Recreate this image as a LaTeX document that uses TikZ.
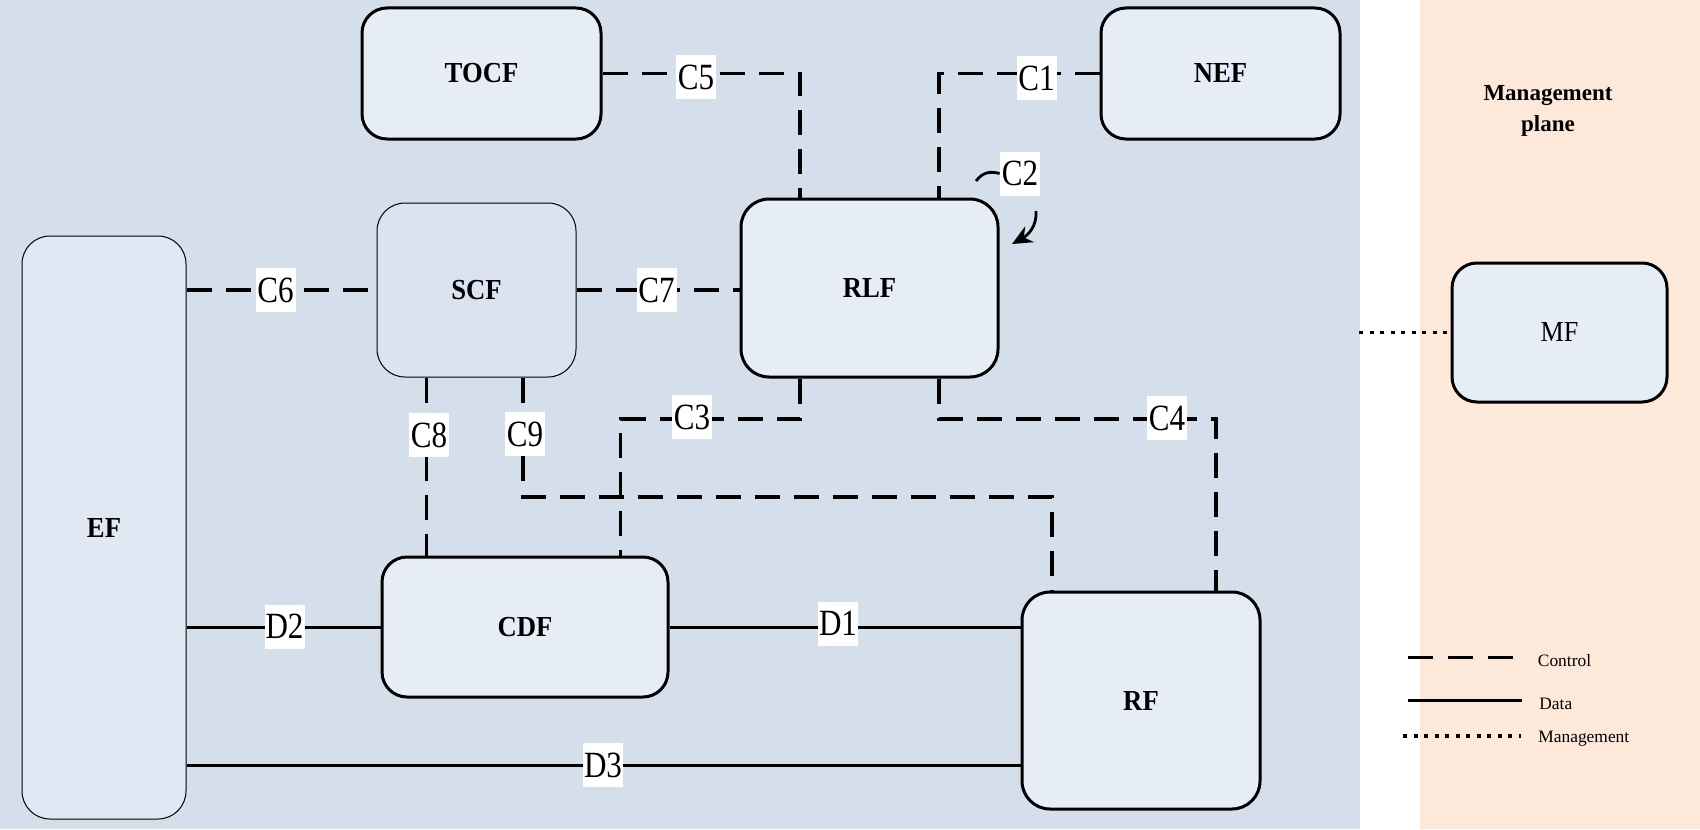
\documentclass[tikz,border=0pt]{standalone}
\usepackage{fontspec}
\usepackage{graphicx}
\setmainfont{Liberation Serif}
\usetikzlibrary{arrows.meta}
\definecolor{bgblue}{HTML}{D5DFEB}
\definecolor{boxfill}{HTML}{E6EDF7}
\definecolor{scffill}{HTML}{DAE3EF}
\definecolor{effill}{HTML}{E0E8F3}
\definecolor{peach}{HTML}{FDE9D9}
\newcommand\sqz[2]{\scalebox{#1}[1]{#2}}
\tikzset{
  fbox/.style={draw, line width=1.5pt, rounded corners=12.5pt, fill=boxfill, inner sep=0pt,
    font=\fontsize{14.5}{17}\selectfont\bfseries},
  thinbox/.style={draw, line width=0.5pt, rounded corners=14pt, inner sep=0pt,
    font=\fontsize{14.5}{17}\selectfont\bfseries},
  lab/.style={fill=white, inner sep=0pt, minimum width=20pt, minimum height=22pt,
    font=\fontsize{18.5}{20}\selectfont},
  ctrl/.style={line width=1.65pt, dash pattern=on 12.5pt off 7pt},
  datal/.style={line width=1.5pt},
  mgmt/.style={line width=1.9pt, dash pattern=on 2pt off 3.25pt},
  legtext/.style={anchor=west, inner sep=0pt, font=\fontsize{8.7}{10}\selectfont},
}
\begin{document}
\begin{tikzpicture}[x=0.5pt, y=-0.5pt]
\useasboundingbox (0,0) rectangle (1700,829);
\fill[white] (0,0) rectangle (1700,829);
\fill[bgblue] (0,0) rectangle (1360,829);
\fill[peach] (1420,0) rectangle (1700,829);

% boxes
\node[fbox, minimum width=119.5pt, minimum height=65.5pt] (tocf) at (481.5,73.5) {\sqz{0.92}{TOCF}};
\node[fbox, minimum width=119.5pt, minimum height=65.5pt] (nef) at (1220.5,73.5) {\sqz{0.92}{NEF}};
\node[thinbox, fill=scffill, minimum width=99.5pt, minimum height=87pt] (scf) at (476.5,290) {\sqz{0.92}{SCF}};
\node[thinbox, fill=effill, minimum width=82pt, minimum height=291.5pt] (ef) at (104,527.5) {\sqz{0.92}{EF}};
\node[fbox, rounded corners=14pt, minimum width=128.5pt, minimum height=89pt] (rlf) at (869.5,288) {\sqz{0.92}{RLF}};
\node[fbox, minimum width=143pt, minimum height=70pt] (cdf) at (525,627) {\sqz{0.92}{CDF}};
\node[fbox, rounded corners=14pt, minimum width=119pt, minimum height=108.5pt] (rf) at (1141,700.5) {\sqz{0.92}{RF}};
\node[fbox, font=\fontsize{14.5}{17}\selectfont, minimum width=107.5pt, minimum height=69.5pt] (mf) at (1559.5,332.5) {\sqz{0.9}{MF}};
\node[align=center, inner sep=0pt, font=\fontsize{11.5}{15.5}\selectfont\bfseries] (mplane) at (1548,111) {Management\\plane};

% helper coordinates
\coordinate (x800) at (800,0);
\coordinate (x939) at (939,0);
\coordinate (x426) at (426.5,0);
\coordinate (x523) at (523,0);
\coordinate (x621) at (620.6,0);
\coordinate (x1052) at (1052,0);
\coordinate (x1216) at (1216,0);
\coordinate (y419) at (0,419);
\coordinate (y497) at (0,497);
\coordinate (y627) at (0,627);
\coordinate (y765) at (0,765);

% control connectors
\draw[ctrl] (tocf.east) -| (x800 |- rlf.north);
\draw[ctrl] (nef.west) -| (x939 |- rlf.north);
\draw[ctrl] (ef.east |- scf.west) -- (scf.west);
\draw[ctrl] (scf.east) -- (rlf.west |- scf.east);
\draw[ctrl] (x426 |- scf.south) -- (x426 |- cdf.north);
\draw[ctrl] (x523 |- scf.south) -- (x523 |- y497) -- (x1052 |- y497) -- (x1052 |- rf.north);
\draw[ctrl] (x800 |- rlf.south) -- (x800 |- y419) -- (x621 |- y419) -- (x621 |- cdf.north);
\draw[ctrl] (x939 |- rlf.south) -- (x939 |- y419) -- (x1216 |- y419) -- (x1216 |- rf.north);

% data connectors
\draw[datal] (ef.east |- y627) -- (cdf.west |- y627);
\draw[datal] (cdf.east |- y627) -- (rf.west |- y627);
\draw[datal] (ef.east |- y765) -- (rf.west |- y765);

% management
\coordinate (medge) at (1359,332.5);
\draw[mgmt] (medge) -- (mf.west);

% C2 self loop
\coordinate (c2a) at (976,181);
\coordinate (c2b) at (1036,211);
\coordinate (c2tip) at (1012,244);
\node[lab] (lc2) at (1020,173.5) {\sqz{0.84}{C2}};
\draw[line width=1.4pt] (c2a) .. controls (983,172) and (990,171) .. (lc2.west);
\draw[line width=1.4pt, -{Stealth[length=10pt,width=9pt]}] (c2b) .. controls (1037,224) and (1030,234) .. (c2tip);

% labels
\node[lab] (lc5) at (696,77) {\sqz{0.84}{C5}};
\node[lab] (lc1) at (1036.5,78) {\sqz{0.84}{C1}};
\node[lab] (lc6) at (275.5,290) {\sqz{0.84}{C6}};
\node[lab] (lc7) at (656.5,290) {\sqz{0.84}{C7}};
\node[lab] (lc3) at (692,417) {\sqz{0.84}{C3}};
\node[lab] (lc4) at (1167,418) {\sqz{0.84}{C4}};
\node[lab] (lc8) at (429,435) {\sqz{0.84}{C8}};
\node[lab] (lc9) at (525,434) {\sqz{0.84}{C9}};
\node[lab] (ld2) at (284.5,626.5) {\sqz{0.84}{D2}};
\node[lab] (ld1) at (838,623.5) {\sqz{0.84}{D1}};
\node[lab] (ld3) at (603,765) {\sqz{0.84}{D3}};

% legend
\coordinate (lg1a) at (1408,657.7);
\coordinate (lg1b) at (1516,657.7);
\coordinate (lg2a) at (1408,700.7);
\coordinate (lg2b) at (1522,700.7);
\coordinate (lg3a) at (1403,736);
\coordinate (lg3b) at (1521,736);
\draw[line width=1.6pt, dash pattern=on 12.5pt off 7.5pt] (lg1a) -- (lg1b);
\draw[datal] (lg2a) -- (lg2b);
\draw[mgmt] (lg3a) -- (lg3b);
\node[legtext] (t1) at (1537.5,661) {Control};
\node[legtext] (t2) at (1539,704) {Data};
\node[legtext] (t3) at (1538,739) {Management};
\end{tikzpicture}
\end{document}
